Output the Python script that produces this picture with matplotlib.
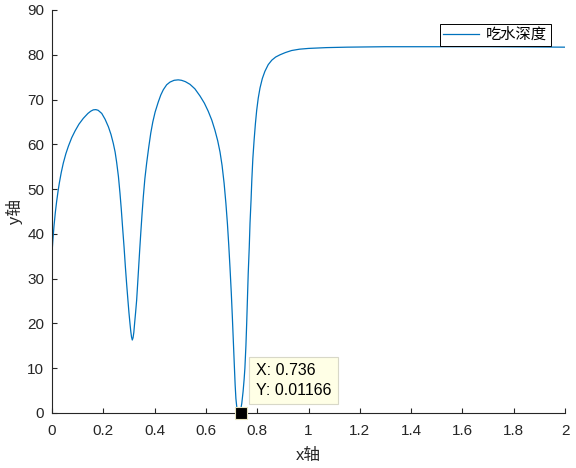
import numpy as np
import matplotlib
matplotlib.use('Agg')
import matplotlib.pyplot as plt

plt.rcParams['font.family'] = ['Liberation Sans', 'Noto Sans CJK SC']

# values
x = [0, 0.003, 0.008, 0.013, 0.018, 0.024, 0.029, 0.036, 0.044, 0.054,
     0.064, 0.077, 0.090, 0.105, 0.122, 0.140, 0.151, 0.161, 0.171, 0.180,
     0.194, 0.207, 0.220, 0.230, 0.239, 0.246, 0.252, 0.259, 0.265, 0.270,
     0.275, 0.281, 0.286, 0.291, 0.296, 0.300, 0.304, 0.307, 0.310, 0.313,
     0.316, 0.319, 0.322, 0.326, 0.330, 0.334, 0.338, 0.342, 0.346, 0.351,
     0.356, 0.362, 0.369, 0.377, 0.385, 0.393, 0.402, 0.414, 0.424, 0.434,
     0.447, 0.460, 0.476, 0.492, 0.505, 0.520, 0.538, 0.557, 0.577, 0.594,
     0.609, 0.623, 0.635, 0.646, 0.655, 0.663, 0.671, 0.678, 0.684, 0.689,
     0.694, 0.699, 0.703, 0.707, 0.711, 0.714, 0.717, 0.721, 0.726, 0.730,
     0.735, 0.740, 0.745, 0.749, 0.752, 0.756, 0.759, 0.762, 0.765, 0.769,
     0.772, 0.776, 0.779, 0.783, 0.788, 0.793, 0.798, 0.804, 0.811, 0.820,
     0.830, 0.843, 0.857, 0.872, 0.889, 0.910, 0.934, 0.965, 1.0, 1.07,
     1.15, 1.3, 1.5, 1.7, 1.85, 2.0]
depth = [35.7, 38.3, 41.9, 44.8, 47.2, 49.7, 51.5, 53.7, 55.8, 57.9,
         59.6, 61.5, 63.0, 64.5, 65.8, 66.9, 67.4, 67.7, 67.75, 67.6,
         66.9, 65.6, 63.9, 62.2, 60.2, 58.3, 56.0, 52.8, 49.1, 45.6,
         41.6, 37.0, 32.7, 28.8, 25.2, 22.4, 20.0, 18.3, 17.0, 16.3,
         16.8, 18.0, 20.0, 22.5, 25.2, 28.9, 32.7, 36.5, 40.1, 44.4,
         48.3, 52.3, 55.8, 59.3, 62.5, 65.0, 67.2, 69.4, 71.0, 72.2,
         73.3, 73.9, 74.3, 74.4, 74.3, 74.0, 73.4, 72.4, 70.8, 69.2,
         67.4, 65.4, 63.2, 60.8, 58.3, 55.3, 51.3, 46.8, 42.2, 37.6,
         32.4, 26.8, 21.6, 16.0, 10.4, 6.3, 3.2, 1.0, 0.15, 0.01,
         0.5, 2.2, 4.8, 7.5, 10.0, 15.0, 20.0, 25.6, 31.2, 37.0,
         42.4, 47.5, 52.0, 56.8, 61.0, 64.6, 67.6, 70.3, 72.6, 74.7,
         76.3, 77.8, 78.8, 79.5, 80.0, 80.5, 80.95, 81.25, 81.42, 81.6,
         81.7, 81.8, 81.8, 81.8, 81.75, 81.7]

tip_x, tip_y = 0.736, 0.01166

xticks = [0, 0.2, 0.4, 0.6, 0.8, 1, 1.2, 1.4, 1.6, 1.8, 2]
xtick_labels = ['0', '0.2', '0.4', '0.6', '0.8', '1', '1.2', '1.4', '1.6', '1.8', '2']
yticks = [0, 10, 20, 30, 40, 50, 60, 70, 80, 90]

axcol = '#262626'

fig = plt.figure(figsize=(5.76, 4.68), dpi=100)
ax = fig.add_axes([52/576, 55/468, 513/576, 403/468])

ax.plot(x, depth, color='#0072BD', lw=0.9, label='吃水深度')

# data tip
ax.plot([tip_x], [tip_y], marker='s', ms=8.5, color='black',
        mec='#e8e4c0', mew=0.8, clip_on=False, zorder=5)
ax.annotate(f'X: {tip_x}\nY: {tip_y}', xy=(tip_x, tip_y),
            xytext=(15, 15), textcoords='offset pixels',
            ha='left', va='bottom', fontsize=11.5, color='black',
            linespacing=1.4,
            bbox=dict(boxstyle='square,pad=0.4', fc='#ffffe6', ec='#d8d8c8', lw=0.8))

ax.set_xlim(0, 2)
ax.set_ylim(0, 90)
ax.set_xticks(xticks)
ax.set_xticklabels(xtick_labels)
ax.set_yticks(yticks)

for s in ['top', 'right']:
    ax.spines[s].set_visible(False)
for s in ['left', 'bottom']:
    ax.spines[s].set_color(axcol)
    ax.spines[s].set_linewidth(0.8)
ax.tick_params(direction='in', length=3.5, width=0.8, colors=axcol,
               labelsize=11)
ax.tick_params(axis='x', pad=8)
ax.tick_params(axis='y', pad=5.5)

ax.set_xlabel('x轴', fontsize=12, color=axcol, labelpad=7)
ax.set_ylabel('y轴', fontsize=12, color=axcol, labelpad=3)

leg = ax.legend(loc='upper right', bbox_to_anchor=(0.9727, 0.965),
                borderaxespad=0, fancybox=False, framealpha=1,
                edgecolor='black', fontsize=11, handlelength=2.3,
                borderpad=0.25, handletextpad=0.5)
leg.get_frame().set_linewidth(0.7)

fig.savefig('out.png', dpi=100)
